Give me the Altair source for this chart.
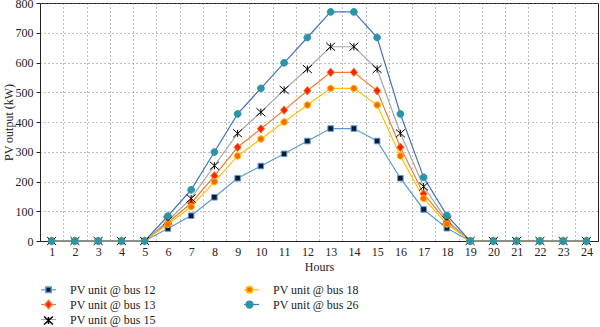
import altair as alt
import pandas as pd

hours = list(range(1, 25))
names = ["PV unit @ bus 12", "PV unit @ bus 13", "PV unit @ bus 15",
         "PV unit @ bus 18", "PV unit @ bus 26"]

bus12 = [0, 0, 0, 0, 0, 42, 85, 147, 211, 252, 293, 336, 378, 378, 336, 211, 106, 43, 0, 0, 0, 0, 0, 0]
bus13 = [0, 0, 0, 0, 0, 62, 127, 219, 315, 377, 440, 505, 567, 567, 505, 315, 158, 65, 0, 0, 0, 0, 0, 0]
bus15 = [0, 0, 0, 0, 0, 68, 143, 253, 362, 433, 508, 578, 653, 653, 578, 362, 183, 70, 0, 0, 0, 0, 0, 0]
bus18 = [0, 0, 0, 0, 0, 56, 115, 199, 286, 343, 400, 457, 513, 513, 457, 286, 143, 57, 0, 0, 0, 0, 0, 0]
bus26 = [0, 0, 0, 0, 0, 84, 172, 299, 427, 513, 599, 684, 770, 770, 684, 427, 214, 86, 0, 0, 0, 0, 0, 0]
values = [bus12, bus13, bus15, bus18, bus26]

line_colors = ["#5b9bd5", "#ed7d31", "#a5a5a5", "#ffc000", "#4472c4"]
marker_fill = ["#0b1a36", "#ff2200", "#000000", "#ff6a00", "#2b95a8"]
marker_stroke = ["#5b9bd5", "#ed7d31", "#000000", "#ffc000", "#2b95a8"]
marker_shape = [
    "M-0.37,-0.37H0.37V0.37H-0.37Z",
    "M0,-0.56L0.48,0L0,0.56L-0.48,0Z",
    "M-0.6,-0.53L0.6,0.53M0.6,-0.53L-0.6,0.53M0,-0.47L0,0.47",
    "M0.43,0A0.43,0.43 0 1,1 -0.43,0A0.43,0.43 0 1,1 0.43,0Z",
    "M0.45,0A0.45,0.45 0 1,1 -0.45,0A0.45,0.45 0 1,1 0.45,0Z",
]

rows = []
for k, (n, vals) in enumerate(zip(names, values)):
    for h, v in zip(hours, vals):
        rows.append({"hour": h, "value": v, "series": n, "line_series": n, "k": k})
df = pd.DataFrame(rows)

FONT = "Liberation Serif"

leg_common = dict(orient="none", legendX=0, legendY=278, columns=2, columnPadding=85,
                  rowPadding=0, symbolSize=225, labelOffset=13, labelFont=FONT,
                  labelFontSize=12, labelColor="#222", title=None)

x_lab = alt.X("hour:Q", scale=alt.Scale(domain=[0.5, 24.5], nice=False, zero=False),
              axis=alt.Axis(values=hours, grid=False, title="Hours", tickSize=0,
                            labelPadding=5, titlePadding=4, orient="bottom"))
x_grid = alt.X("hour:Q", scale=alt.Scale(domain=[0.5, 24.5], nice=False, zero=False),
               axis=alt.Axis(values=[h + 0.5 for h in hours[:-1]], grid=True, labels=False,
                             ticks=False, domain=False, title=None, orient="bottom"))
y_enc = alt.Y("value:Q", scale=alt.Scale(domain=[0, 800], nice=False),
              axis=alt.Axis(values=list(range(0, 801, 100)), title="PV output (kW)",
                            tickSize=4, labelPadding=3, titlePadding=0))

# line legend: domain from data (alphabetical == names order)
lines = alt.Chart(df).mark_line(strokeWidth=1.2).encode(
    x=x_lab, y=y_enc,
    color=alt.Color("line_series:N", scale=alt.Scale(range=line_colors),
                    legend=alt.Legend(**leg_common, symbolType="stroke", symbolStrokeWidth=1.2)),
    detail="k:N",
    order="hour:Q",
)

mleg = alt.Legend(**leg_common, labelOpacity=0)
points = alt.Chart(df).mark_point(filled=True, size=225, strokeWidth=1, opacity=1).encode(
    x=x_grid, y=y_enc,
    fill=alt.Fill("series:N", scale=alt.Scale(domain=names, range=marker_fill), legend=mleg),
    stroke=alt.Stroke("series:N", scale=alt.Scale(domain=names, range=marker_stroke), legend=mleg),
    shape=alt.Shape("series:N", scale=alt.Scale(domain=names, range=marker_shape), legend=mleg),
    order="k:Q",
)

chart = alt.layer(lines, points).resolve_axis(x="independent").properties(
    width=558, height=238,
    autosize=alt.AutoSizeParams(type="none"),
    padding={"left": 40, "top": 3, "right": 2, "bottom": 86},
).configure(font=FONT).configure_view(
    stroke="#222", strokeWidth=1
).configure_axis(
    labelFont=FONT, titleFont=FONT, labelFontSize=12, titleFontSize=12,
    titleFontWeight="normal", labelColor="#222", titleColor="#222",
    domainColor="#222", tickColor="#222", gridColor="#777", gridDash=[1, 3], gridOpacity=0.9,
)

chart.save("out.html", embed_options={"renderer": "svg", "actions": False})
